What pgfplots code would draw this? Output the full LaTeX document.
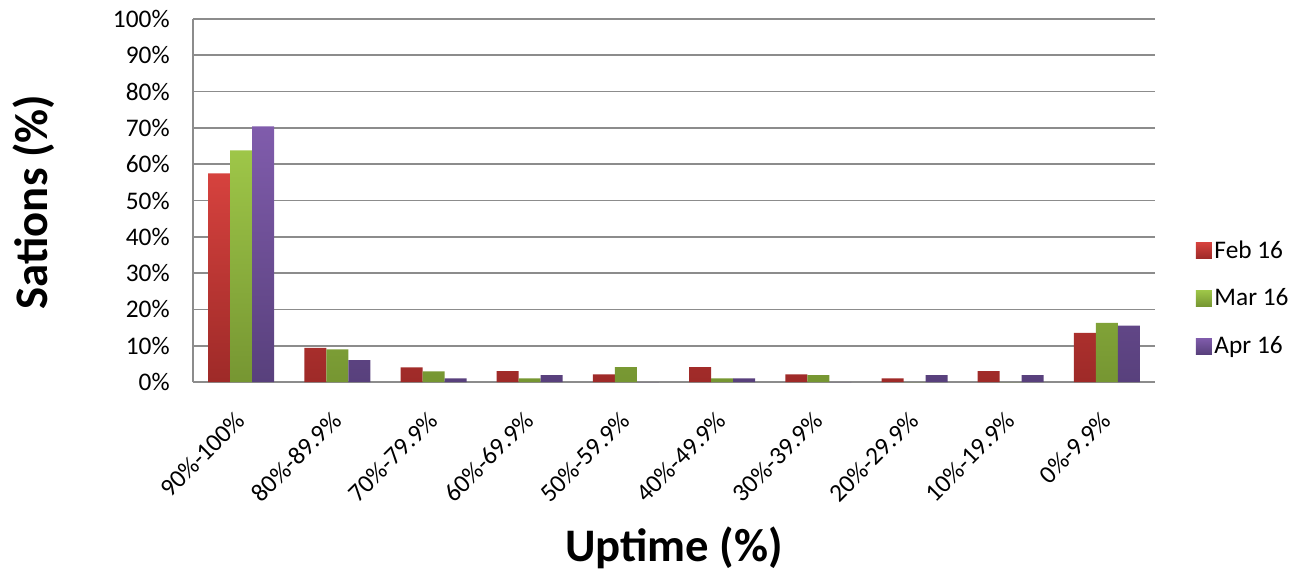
\documentclass[border=0pt]{standalone}
\usepackage{pgfplots}
\pgfplotsset{compat=1.18}
\usepackage{fontspec}
\setmainfont{Carlito}
\definecolor{redT}{RGB}{214,66,62}
\definecolor{redB}{RGB}{158,42,40}
\definecolor{grnT}{RGB}{158,198,72}
\definecolor{grnB}{RGB}{118,150,50}
\definecolor{purT}{RGB}{128,92,172}
\definecolor{purB}{RGB}{88,64,124}
\definecolor{gridc}{RGB}{140,140,140}
\begin{document}
\begin{tikzpicture}
\path[use as bounding box] (0,0) rectangle (984.75pt,431.25pt);
\begin{axis}[
  at={(144.75pt,144.75pt)}, anchor=south west,
  scale only axis, width=721.5pt, height=272.25pt,
  ymin=0, ymax=100, xmin=-0.5, xmax=9.5,
  ybar=0pt, bar width=16.5pt,
  xtick={0,...,9},
  xticklabels={90\%-100\%,80\%-89.9\%,70\%-79.9\%,60\%-69.9\%,50\%-59.9\%,40\%-49.9\%,30\%-39.9\%,20\%-29.9\%,10\%-19.9\%,0\%-9.9\%},
  ytick={0,10,...,100},
  yticklabel={\pgfmathprintnumber{\tick}\%},
  /pgf/number format/assume math mode=true,
  major tick length=0pt,
  axis x line*=bottom, axis y line*=left,
  axis line style={draw=gridc, line width=1.5pt, -},
  ymajorgrids, grid style={draw=gridc, line width=1.3pt},
  tick label style={font=\fontsize{19}{23}\selectfont},
  yticklabel style={anchor=east, xshift=-14pt},
  xticklabel style={xshift=-5pt, yshift=-16pt, rotate=45, anchor=north east},
  xlabel={Uptime (\%)},
  xlabel style={font=\bfseries\fontsize{35}{42}\selectfont, at={(axis description cs:0.5,-0.457)}, anchor=center},
  ylabel={Sations (\%)},
  ylabel style={font=\bfseries\fontsize{35}{42}\selectfont, at={(axis description cs:-0.166,0.496)}, anchor=center},
  legend image code/.code={\path[#1] (0pt,-6pt) rectangle (12pt,6pt);},
  legend style={at={(axis description cs:1.038,0.231)}, anchor=west, draw=none, fill=none,
    font=\fontsize{19}{23}\selectfont, row sep=17.5pt},
  legend cell align=left,
]
\addplot[draw=none, top color=redT, bottom color=redB] coordinates {(0,57.5)(1,9.4)(2,4.0)(3,3.0)(4,2.1)(5,4.1)(6,2.1)(7,1.0)(8,3.0)(9,13.5)};
\addplot[draw=none, top color=grnT, bottom color=grnB] coordinates {(0,63.8)(1,9.0)(2,2.9)(3,1.0)(4,4.1)(5,1.0)(6,1.9)(7,0)(8,0)(9,16.3)};
\addplot[draw=none, top color=purT, bottom color=purB] coordinates {(0,70.4)(1,6.0)(2,1.0)(3,1.9)(4,0)(5,1.0)(6,0)(7,1.9)(8,1.9)(9,15.5)};
\legend{Feb 16, Mar 16, Apr 16}
\end{axis}
\end{tikzpicture}
\end{document}
